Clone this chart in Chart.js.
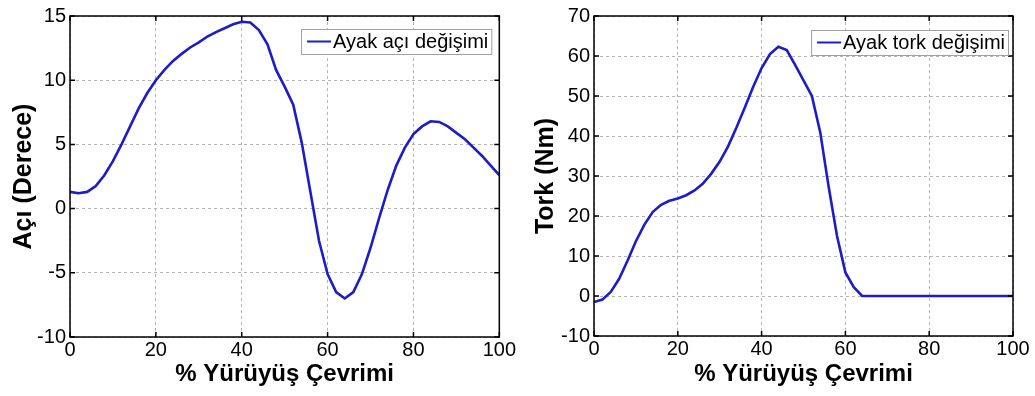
<!DOCTYPE html>
<html lang="tr">
<head>
    <meta charset="UTF-8">
    <title>Ayak açı ve tork değişimi</title>
    <script src="https://cdn.jsdelivr.net/npm/chart.js"></script>
    <style>
        body {
            margin: 0;
            padding: 0;
            background-color: #ffffff;
            font-family: "Liberation Sans", Arial, sans-serif;
        }

        .row {
            display: flex;
            width: 1035px;
            height: 396px;
        }
    </style>
</head>
<body>
    <div class="row">
        <canvas id="aciChart" width="517" height="396"></canvas>
        <canvas id="torkChart" width="518" height="396"></canvas>
    </div>

    <script>
        // % gait cycle, one sample every 2 %
        const cyclePct = [0, 2, 4, 6, 8, 10, 12, 14, 16, 18, 20, 22, 24, 26, 28, 30, 32, 34, 36, 38, 40,
            42, 44, 46, 48, 50, 52, 54, 56, 58, 60, 62, 64, 66, 68, 70, 72, 74, 76, 78, 80,
            82, 84, 86, 88, 90, 92, 94, 96, 98, 100];

        // ankle angle (degrees)
        const aciValues = [1.3, 1.2, 1.3, 1.75, 2.6, 3.7, 5.0, 6.4, 7.8, 9.0, 10.0, 10.8, 11.5, 12.05, 12.55,
            12.95, 13.4, 13.75, 14.05, 14.35, 14.55, 14.5, 13.9, 12.8, 10.8, 9.5, 8.1, 5.1, 1.3, -2.5,
            -5.1, -6.5, -7.0, -6.5, -5.1, -3.05, -0.75, 1.45, 3.35, 4.75, 5.8, 6.4, 6.8, 6.75, 6.4,
            5.9, 5.4, 4.75, 4.1, 3.35, 2.6];

        // ankle torque (Nm)
        const torkValues = [-1.5, -0.9, 1.0, 4.3, 8.8, 13.7, 17.8, 21.0, 22.8, 23.8, 24.4, 25.2, 26.4, 28.1,
            30.6, 33.6, 37.4, 42.1, 47.1, 52.3, 57.0, 60.5, 62.3, 61.5, 57.8, 53.9, 50.0, 40.9, 27.3,
            15.0, 5.9, 2.2, 0, 0, 0, 0, 0, 0, 0, 0, 0, 0, 0, 0, 0, 0, 0, 0, 0, 0, 0];

        const xTicks = [0, 20, 40, 60, 80, 100];
        const aciTicks = [-10, -5, 0, 5, 10, 15];
        const torkTicks = [-10, 0, 10, 20, 30, 40, 50, 60, 70];

        const FONT = '"Liberation Sans", Arial, sans-serif';
        const LINE_BLUE = '#1c1cc8';

        // box, inward ticks on all four sides and a matlab style legend
        const matlabFrame = {
            id: 'matlabFrame',
            afterDraw(chart, args, opts) {
                const { ctx, chartArea: a, scales } = chart;
                const len = 5;
                ctx.save();
                ctx.strokeStyle = '#000';
                ctx.lineWidth = 1.5;
                ctx.strokeRect(a.left, a.top, a.right - a.left, a.bottom - a.top);

                ctx.beginPath();
                scales.x.ticks.forEach(t => {
                    const px = scales.x.getPixelForValue(t.value);
                    ctx.moveTo(px, a.bottom); ctx.lineTo(px, a.bottom - len);
                    ctx.moveTo(px, a.top); ctx.lineTo(px, a.top + len);
                });
                scales.y.ticks.forEach(t => {
                    const py = scales.y.getPixelForValue(t.value);
                    ctx.moveTo(a.left, py); ctx.lineTo(a.left + len, py);
                    ctx.moveTo(a.right, py); ctx.lineTo(a.right - len, py);
                });
                ctx.stroke();

                // legend
                ctx.font = '20px ' + FONT;
                const textW = ctx.measureText(opts.label).width;
                const boxW = 6 + 24 + 2 + textW + 3;
                const boxH = 25;
                const bx = a.right - opts.rightGap - boxW;
                const by = a.top + opts.topGap;
                ctx.fillStyle = '#fff';
                ctx.fillRect(bx, by, boxW, boxH);
                ctx.strokeStyle = '#a0a0a0';
                ctx.lineWidth = 1;
                ctx.strokeRect(bx + 0.5, by + 0.5, boxW, boxH);
                ctx.strokeStyle = LINE_BLUE;
                ctx.lineWidth = 2;
                ctx.beginPath();
                ctx.moveTo(bx + 6, by + boxH / 2);
                ctx.lineTo(bx + 30, by + boxH / 2);
                ctx.stroke();
                ctx.fillStyle = '#000';
                ctx.textBaseline = 'middle';
                ctx.fillText(opts.label, bx + 32, by + boxH / 2 + 1);
                ctx.restore();
            }
        };

        function makeChart(id, values, yTicks, yTitle, legendLabel, geo) {
            const ctx = document.getElementById(id).getContext('2d');
            return new Chart(ctx, {
                type: 'line',
                data: {
                    datasets: [{
                        label: legendLabel,
                        data: cyclePct.map((x, i) => ({ x: x, y: values[i] })),
                        borderColor: LINE_BLUE,
                        borderWidth: 2.6,
                        pointRadius: 0,
                        fill: false,
                        tension: 0
                    }]
                },
                options: {
                    responsive: false,
                    animation: false,
                    layout: {
                        padding: { top: geo.top, right: geo.right, left: 0, bottom: 0 }
                    },
                    scales: {
                        x: {
                            type: 'linear',
                            min: 0,
                            max: 100,
                            afterBuildTicks: s => { s.ticks = xTicks.map(v => ({ value: v })); },
                            afterFit: s => { s.height = geo.xHeight; },
                            ticks: {
                                color: '#000',
                                padding: 1,
                                maxRotation: 0,
                                font: { family: FONT, size: 20 }
                            },
                            grid: { color: '#b4b4b4', lineWidth: 1, drawTicks: false },
                            border: { display: false, dash: [3, 3] },
                            title: {
                                display: true,
                                text: '% Yürüyüş Çevrimi',
                                color: '#000',
                                font: { family: FONT, size: 24, weight: 'bold' },
                                padding: { top: 0, bottom: 7 }
                            }
                        },
                        y: {
                            type: 'linear',
                            min: yTicks[0],
                            max: yTicks[yTicks.length - 1],
                            afterBuildTicks: s => { s.ticks = yTicks.map(v => ({ value: v })); },
                            afterFit: s => { s.width = geo.yWidth; },
                            ticks: {
                                color: '#000',
                                padding: 4,
                                font: { family: FONT, size: 20 }
                            },
                            grid: { color: '#b4b4b4', lineWidth: 1, drawTicks: false },
                            border: { display: false, dash: [3, 3] },
                            title: {
                                display: true,
                                text: yTitle,
                                color: '#000',
                                font: { family: FONT, size: 25, weight: 'bold' },
                                padding: { top: geo.yTitlePad, bottom: 0 }
                            }
                        }
                    },
                    plugins: {
                        legend: { display: false },
                        tooltip: { enabled: false },
                        matlabFrame: { label: legendLabel, rightGap: geo.legRight, topGap: geo.legTop }
                    }
                },
                plugins: [matlabFrame]
            });
        }

        makeChart('aciChart', aciValues, aciTicks, 'Açı (Derece)', 'Ayak açı değişimi',
            { top: 12, right: 15, xHeight: 59, yWidth: 70, yTitlePad: 9, legRight: 8, legTop: 13 });
        makeChart('torkChart', torkValues, torkTicks, 'Tork (Nm)', 'Ayak tork değişimi',
            { top: 12, right: 22, xHeight: 60, yWidth: 77, yTitlePad: 14, legRight: 5, legTop: 14 });
    </script>
</body>
</html>
